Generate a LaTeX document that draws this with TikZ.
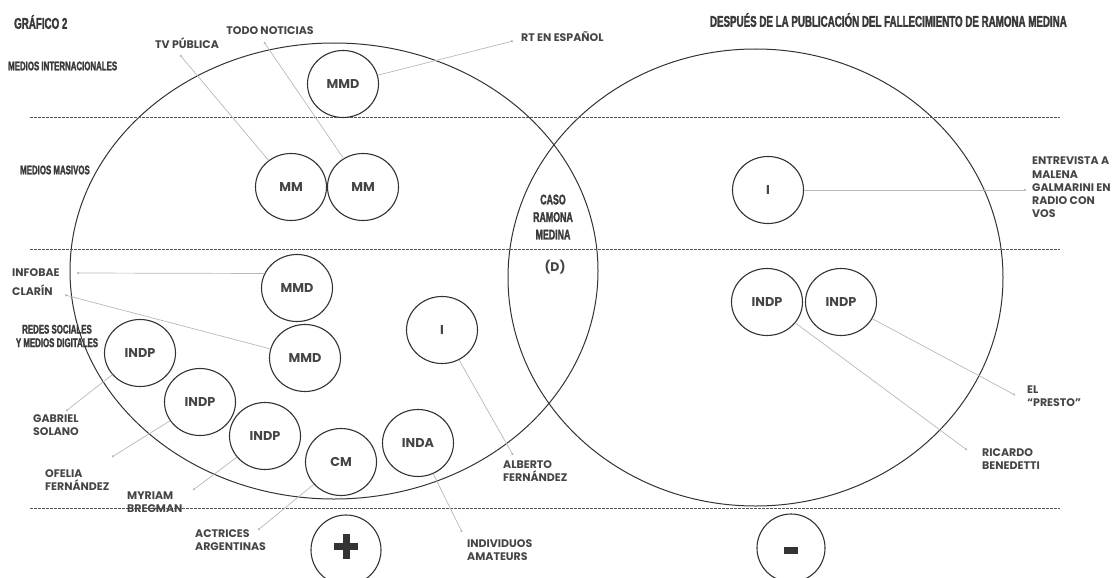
\documentclass[tikz,border=0pt]{standalone}
\usepackage{fontspec}
\setmainfont{Poppins}
\newfontfamily\condf[FakeStretch=0.63,FakeBold=1.8,UprightFont={* Bold},BoldFont={* Bold}]{Liberation Sans}
\usetikzlibrary{arrows.meta,shapes.geometric}
\definecolor{circ}{HTML}{333333}
\definecolor{txt}{HTML}{454545}
\definecolor{hdrc}{HTML}{3A3A3A}
\definecolor{lc}{HTML}{B8B8B8}
\definecolor{dl}{HTML}{555555}
\tikzset{
  ent/.style={ellipse,draw=circ,line width=1.1pt,minimum width=71pt,minimum height=67pt,inner sep=0pt,
    font=\fontsize{12.8}{14}\selectfont\bfseries,text=txt},
  sign/.style={circle,draw=circ,line width=1.1pt,minimum size=70pt,inner sep=0pt},
  lbl/.style={font=\fontsize{11}{13.2}\selectfont\bfseries,text=txt,align=left,inner sep=0pt},
  hdr/.style={font=\condf\fontsize{12.5}{15}\selectfont,text=hdrc,inner sep=0pt},
  bighdr/.style={font=\condf\fontsize{14}{17.5}\selectfont,text=hdrc,inner sep=0pt,align=center},
  conn/.style={draw=lc,line width=0.7pt,-{Circle[length=2.2pt]}},
  dashline/.style={draw=dl,line width=0.6pt,dash pattern=on 2.5pt off 1.5pt},
  bigc/.style={draw=circ,line width=1.0pt}
}
\begin{document}
\begin{tikzpicture}[x=1pt,y=-1pt]
\useasboundingbox (0,0) rectangle (1116,578);
% big ellipses
\draw[bigc] (334,271) ellipse [x radius=264pt, y radius=228pt];
\draw[bigc] (755.5,277.5) ellipse [x radius=247.5pt, y radius=228.5pt];
% dashed separators
\draw[dashline] (30,117) -- (1060,117);
\draw[dashline] (30,249) -- (1060,249);
\draw[dashline] (30,508) -- (1060,508);
% headers
\node[hdr,anchor=west,font=\condf\fontsize{15.5}{17}\selectfont] (g2) at (14,22) {GRÁFICO 2};
\node[hdr,anchor=east,font=\condf\fontsize{15.5}{17}\selectfont] (title) at (1067,20) {DESPUÉS DE LA PUBLICACIÓN DEL FALLECIMIENTO DE RAMONA MEDINA};
\node[hdr,anchor=west] (hint) at (8,66) {MEDIOS INTERNACIONALES};
\node[hdr,anchor=west] (hmas) at (20,170) {MEDIOS MASIVOS};
\node[hdr,align=center,font=\condf\fontsize{12.5}{13.5}\selectfont] (hred) at (57,336) {REDES SOCIALES\\Y MEDIOS DIGITALES};
\node[bighdr] (caso) at (553,217) {CASO\\RAMONA\\MEDINA};
\node[font=\fontsize{12.5}{14}\selectfont\bfseries,text=txt] (d) at (555,267) {(D)};
% entity circles
\node[ent] (mmdt) at (343,84) {MMD};
\node[ent] (mm1) at (291,187) {MM};
\node[ent] (mm2) at (363,187) {MM};
\node[ent] (ir) at (768,190) {I};
\node[ent] (mmd1) at (297,288) {MMD};
\node[ent] (mmd2) at (305,358) {MMD};
\node[ent] (il) at (442,330) {I};
\node[ent] (p1) at (140,353) {INDP};
\node[ent] (p2) at (200,402) {INDP};
\node[ent] (p3) at (265,436) {INDP};
\node[ent] (cm) at (341,462) {CM};
\node[ent] (inda) at (418,443) {INDA};
\node[ent] (pr1) at (767,302) {INDP};
\node[ent] (pr2) at (841,302) {INDP};
% plus / minus
\node[sign] (plus) at (346,550) {};
\node[sign,minimum size=68pt] (minus) at (791,548) {};
\fill[circ] (334,543) rectangle (358,550);
\fill[circ] (342.5,534) rectangle (349.5,559);
\fill[circ] (784,547) rectangle (798,554);
% labels
\node[lbl,anchor=west] (lrt) at (521,37) {RT EN ESPAÑOL};
\node[lbl] (ltv) at (187,43) {TV PÚBLICA};
\node[lbl] (ltn) at (270,31) {TODO NOTICIAS};
\node[lbl,anchor=west] (lent) at (1032,187.5) {ENTREVISTA A\\MALENA\\GALMARINI EN\\RADIO CON\\VOS};
\node[lbl,anchor=west] (linf) at (12,273) {INFOBAE};
\node[lbl,anchor=west] (lcla) at (12,290) {CLARÍN};
\node[lbl,anchor=west] (lgs) at (33,425.5) {GABRIEL\\SOLANO};
\node[lbl,anchor=west] (lof) at (45,480) {OFELIA\\FERNÁNDEZ};
\node[lbl,anchor=west] (lmb) at (127,502.5) {MYRIAM\\BREGMAN};
\node[lbl,anchor=west] (lac) at (195,540.5) {ACTRICES\\ARGENTINAS};
\node[lbl,anchor=west] (lia) at (467,550.5) {INDIVIDUOS\\AMATEURS};
\node[lbl,anchor=west] (laf) at (503,471) {ALBERTO\\FERNÁNDEZ};
\node[lbl,anchor=west] (lpr) at (1027,396) {EL\\“PRESTO”};
\node[lbl,anchor=west] (lrb) at (982,459) {RICARDO\\BENEDETTI};
% connector end points
\coordinate (crt) at (513,41);
\coordinate (ctv) at (180,55);
\coordinate (ctn) at (264,42);
\coordinate (cent) at (1026,190);
\coordinate (cinf) at (77,273);
\coordinate (ccla) at (65,295);
\coordinate (cgs) at (66,411);
\coordinate (cof) at (112,457);
\coordinate (cmb) at (193,490);
\coordinate (cac) at (258,530);
\coordinate (cia) at (462,532);
\coordinate (caf) at (513,455);
\coordinate (cpr) at (1015,395);
\coordinate (crb) at (967,450);
% connectors
\draw[conn] (mmdt) -- (crt);
\draw[conn] (mm1) -- (ctv);
\draw[conn] (mm2) -- (ctn);
\draw[conn] (ir) -- (cent);
\draw[conn] (mmd1.156) -- (cinf);
\draw[conn] (mmd2) -- (ccla);
\draw[conn] (p1) -- (cgs);
\draw[conn] (p2) -- (cof);
\draw[conn] (p3) -- (cmb);
\draw[conn] (cm) -- (cac);
\draw[conn] (inda) -- (cia);
\draw[conn] (il) -- (caf);
\draw[conn] (pr2) -- (cpr);
\draw[conn] (pr1) -- (crb);
\end{tikzpicture}
\end{document}
